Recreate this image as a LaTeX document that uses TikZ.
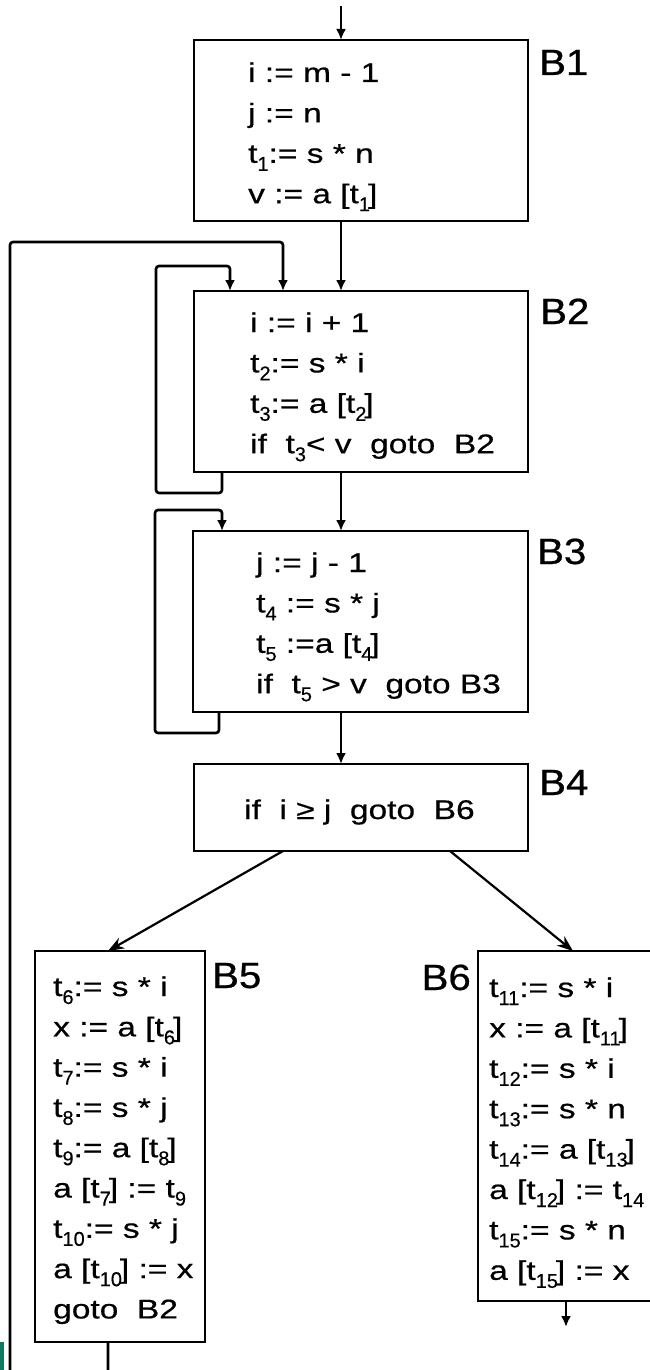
\documentclass[tikz,border=0pt]{standalone}
\usepackage{fontspec}
\setmainfont[FakeStretch=1.24,FakeBold=0.6]{Liberation Sans}
\newfontfamily\labfont[FakeStretch=1.1,FakeBold=0.6]{Liberation Sans}
\newfontfamily\subfont[FakeBold=0.4]{Liberation Sans}
\usetikzlibrary{arrows.meta}
\newcommand\tsb[1]{\raisebox{-8pt}{\fontsize{20}{20}\subfont #1}}
\newcommand\tsk[1]{\tsb{#1}\kern-2pt}
\definecolor{stripcol}{RGB}{15,120,100}
\begin{document}
\begin{tikzpicture}[x=1pt,y=-1pt,
  box/.style={draw, line width=2.8pt, inner sep=0pt, outer sep=0pt, anchor=north west},
  code/.style={font={\fontsize{27}{30}\selectfont}, anchor=base west, inner sep=0pt},
  blabel/.style={font={\fontsize{36.5}{36}\labfont}, anchor=base west, inner sep=0pt},
  arr/.style={line width=2.6pt, -{Latex[length=11pt,width=10pt]}},
  darr/.style={line width=2.2pt, -{Stealth[length=16pt,width=12pt]}},
  loopline/.style={arr, rounded corners=3pt}]
\useasboundingbox (0,0) rectangle (650,1370);
\clip (0,0) rectangle (650,1370);

% boxes
\node[box, minimum width=334pt, minimum height=181pt] (B1) at (194,40) {};
\node[box, minimum width=334pt, minimum height=181pt] (B2) at (194,291) {};
\node[box, minimum width=335pt, minimum height=181pt] (B3) at (193,531) {};
\node[box, minimum width=334pt, minimum height=87pt] (B4) at (194,764) {};
\node[box, minimum width=170pt, minimum height=391pt] (B5) at (35,951) {};
\node[box, minimum width=182pt, minimum height=350pt] (B6) at (478,951) {};

% labels
\node[blabel] (L1) at (539,75) {B1};
\node[blabel] (L2) at (540,324) {B2};
\node[blabel] (L3) at (537,564) {B3};
\node[blabel] (L4) at (539,795) {B4};
\node[blabel] (L5) at (212,988) {B5};
\node[blabel, anchor=base east] (L6) at (471,990) {B6};

% code lines
\foreach \txt [count=\k] in {{i := m - 1},{j := n},{t\tsb{1}:= s * n},{v := a [t\tsk{1}]}}
  \node[code] (B1l\k) at (248,82+40.4*\k-40.4) {\txt};
\foreach \txt [count=\k] in {{i := i + 1},{t\tsb{2}:= s * i},{t\tsb{3}:= a [t\tsk{2}]},{if~~t\tsb{3}< v~~goto~~B2}}
  \node[code] (B2l\k) at (250,332+40.4*\k-40.4) {\txt};
\foreach \txt [count=\k] in {{j := j - 1},{t\tsb{4} := s * j},{t\tsb{5} :=a [t\tsk{4}]},{if~~t\tsb{5} > v~~goto B3}}
  \node[code] (B3l\k) at (256,572+40.4*\k-40.4) {\txt};
\node[code] (B4l1) at (244,819) {if~~i ≥ j~~goto~~B6};
\foreach \txt [count=\k] in {{t\tsb{6}:= s * i},{x := a [t\tsk{6}]},{t\tsb{7}:= s * i},{t\tsb{8}:= s * j},{t\tsb{9}:= a [t\tsk{8}]},{a [t\tsk{7}] := t\tsb{9}},{t\tsb{10}:= s * j},{a [t\tsk{10}] := x},{goto~~B2}}
  \node[code] (B5l\k) at (53,996+40.3*\k-40.3) {\txt};
\foreach \txt [count=\k] in {{t\tsb{11}:= s * i},{x := a [t\tsk{11}]},{t\tsb{12}:= s * i},{t\tsb{13}:= s * n},{t\tsb{14}:= a [t\tsk{13}]},{a [t\tsk{12}] := t\tsb{14}},{t\tsb{15}:= s * n},{a [t\tsk{15}] := x}}
  \node[code] (B6l\k) at (489,997+40.4*\k-40.4) {\txt};

% coordinates for connectors
\coordinate (start) at (341,6);
\coordinate (o1) at (108,1390);
\coordinate (o2) at (10,1390);
\coordinate (o3) at (10,242);
\coordinate (o4) at (283,242);
\coordinate (l2a) at (222,493);
\coordinate (l2b) at (156,493);
\coordinate (l2c) at (156,266);
\coordinate (l2d) at (230,266);
\coordinate (l3a) at (219,733);
\coordinate (l3b) at (155,733);
\coordinate (l3c) at (155,510);
\coordinate (l3d) at (222,510);
\coordinate (d1) at (283,0);
\coordinate (d2) at (108,0);
\coordinate (d3) at (450,0);
\coordinate (d4) at (573,0);
\coordinate (e6) at (566,1327);

% straight flow
\draw[arr] (start) -- (B1.north -| start);
\draw[arr] (B1.south -| start) -- (B2.north -| start);
\draw[arr] (B2.south -| start) -- (B3.north -| start);
\draw[arr] (B3.south -| start) -- (B4.north -| start);
\draw[darr] (B4.south -| d1) -- (B5.north -| d2);
\draw[darr] (B4.south -| d3) -- (B6.north -| d4);
\draw[arr] (B6.south -| e6) -- (e6);

% loops
\draw[loopline] (B2.south -| l2a) -- (l2a) -- (l2b) -- (l2c) -- (l2d) -- (B2.north -| l2d);
\draw[loopline] (B3.south -| l3a) -- (l3a) -- (l3b) -- (l3c) -- (l3d) -- (B3.north -| l3d);
\draw[loopline] (B5.south -| o1) -- (o1) -- (o2) -- (o3) -- (o4) -- (B2.north -| o4);

% edge strip
\fill[stripcol] (0,1342) rectangle (3.5,1370);
\end{tikzpicture}
\end{document}
